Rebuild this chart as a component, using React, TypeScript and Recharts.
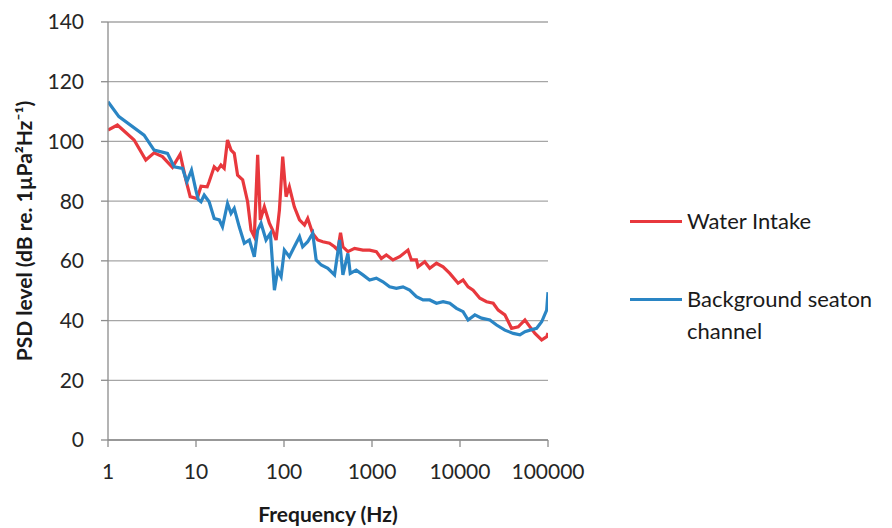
import { LineChart, Line, XAxis, YAxis, CartesianGrid, Legend } from "recharts";

const xTicks = [1, 10, 100, 1000, 10000, 100000];
const yTicks = [0, 20, 40, 60, 80, 100, 120, 140];

const waterFreq = [
  1, 1.28, 1.98, 2.69, 3.34, 4.15, 5.4, 6.61, 7.67, 8.59, 10.3, 11.4, 13.4, 14.1, 16.1, 17.6, 19.2, 20.9,
  22.8, 25, 27.2, 29.7, 33.9, 38.6, 42.2, 46, 50.2, 53.8, 59.8, 68.2, 74.3, 81.3, 88.7, 96.7, 105.6, 115,
  131, 150, 171, 186, 212, 242, 276, 329, 375, 409, 439, 467, 532, 634, 788, 939, 1120, 1276, 1455, 1730,
  2061, 2562, 2803, 3198, 3334, 3973, 4530, 5400, 6424, 7656, 9512, 10840, 12360, 14090, 16820, 20040,
  23830, 27170, 32360, 38550, 45900, 54700, 62370, 71120, 84720, 96600, 100000,
];
const waterLevel = [
  103.8, 105.5, 100.5, 93.8, 96.2, 94.9, 91.3, 95.7, 87.1, 81.5, 80.9, 85, 84.8, 86.5, 91.5, 90.4, 92.1, 91,
  100.5, 97.1, 96, 88.7, 87.1, 79.8, 70.3, 68.1, 95.5, 73.7, 78.1, 72.6, 70.3, 67, 77, 94.9, 81.5, 84.8,
  78.1, 73.7, 72, 74.2, 69.2, 67, 66.4, 65.9, 64.7, 63.6, 69.4, 64.7, 63.1, 64.2, 63.6, 63.6, 63.1, 60.8,
  62, 60.3, 61.4, 63.6, 60.3, 60.3, 58, 59.7, 57.5, 59.2, 58, 55.8, 52.5, 53.6, 51.3, 50.2, 47.5, 46.3,
  45.8, 43.5, 41.9, 37.4, 37.9, 40.2, 37.9, 35.7, 33.5, 34.6, 35.8,
];

const bgFreq = [
  1, 1.33, 2.57, 3.34, 4.74, 5.64, 7.02, 7.87, 8.89, 9.97, 10.6, 11.4, 12.4, 14.1, 16.1, 18.4, 20, 22.8,
  25, 27.2, 31, 35.4, 40.4, 46, 50.2, 54.8, 62.5, 70, 77.8, 84.8, 92.7, 101, 115, 131, 150, 163, 186, 212,
  232, 265, 315, 375, 428, 467, 532, 566, 662, 788, 939, 1120, 1332, 1586, 1890, 2250, 2680, 3198, 3803,
  4530, 5400, 6424, 7656, 9120, 10840, 12360, 14750, 17580, 21840, 26040, 32360, 40270, 47960, 54700,
  62370, 74300, 84720, 96600, 100000,
];
const bgLevel = [
  113.3, 108.3, 102.1, 97.1, 96, 91.5, 91, 86.5, 90.4, 83.7, 80.5, 79.8, 82, 79.8, 74.2, 73.7, 71.4, 79.2,
  75.9, 77.6, 71.4, 65.9, 67, 61.4, 70.3, 72.6, 67, 69.2, 50.2, 56.9, 54.7, 63.6, 61.4, 64.7, 68.1, 64.7,
  66.4, 69.2, 60.3, 58.6, 57.5, 55.3, 67, 55.3, 62.5, 55.8, 56.9, 55.3, 53.6, 54.2, 53, 51.3, 50.8, 51.3,
  50.2, 48, 46.9, 46.9, 45.8, 46.3, 45.8, 44.1, 43, 40.2, 41.9, 40.8, 40.2, 38.5, 36.8, 35.7, 35.2, 36.3,
  36.8, 37.4, 39.6, 43.5, 49.5,
];

const waterData = waterFreq.map((f, i) => ({ f, v: waterLevel[i] }));
const bgData = bgFreq.map((f, i) => ({ f, v: bgLevel[i] }));

const RED = "#e8383d";
const BLUE = "#2a85c4";
const FONT = "Lato, 'Open Sans', sans-serif";

const legendItems = [
  { color: RED, lines: ["Water Intake"] },
  { color: BLUE, lines: ["Background seaton", "channel"] },
];

function ChartLegend() {
  return (
    <div style={{ fontFamily: FONT, fontSize: 22, color: "#1a1a1a" }}>
      {legendItems.map((item, i) => (
        <div key={i} style={{ display: "flex", alignItems: "flex-start", marginBottom: i === 0 ? 46 : 0 }}>
          <div style={{ width: 52, height: 3, background: item.color, marginTop: 15, marginRight: 5 }} />
          <div style={{ lineHeight: "32px" }}>
            {item.lines.map((l) => (
              <div key={l}>{l}</div>
            ))}
          </div>
        </div>
      ))}
    </div>
  );
}

function YLabel({ viewBox }: any) {
  const cx = 15;
  const cy = viewBox.y + viewBox.height / 2;
  return (
    <text
      x={cx}
      y={cy}
      transform={`rotate(-90 ${cx} ${cy})`}
      textAnchor="middle"
      dominantBaseline="central"
      style={{ fontFamily: FONT, fontSize: 21, fontWeight: 700, fill: "#1a1a1a" }}
    >
      PSD level (dB re. 1µPa²Hz⁻¹)
    </text>
  );
}

export default function App() {
  const tickStyle = { fontFamily: FONT, fontSize: 21, fill: "#262626" };
  return (
    <LineChart width={884} height={520} margin={{ top: 14, right: 344, bottom: 0, left: 0 }}>
      <CartesianGrid vertical={false} stroke="#a6a6a6" strokeWidth={1.3} />
      <XAxis
        dataKey="f"
        type="number"
        scale="log"
        domain={[1, 100000]}
        ticks={xTicks}
        allowDataOverflow
        height={88}
        tick={tickStyle}
        tickSize={7}
        tickMargin={17}
        stroke="#8c8c8c"
        strokeWidth={1.3}
        label={{
          value: "Frequency (Hz)",
          position: "insideBottom",
          offset: 6,
          style: { fontFamily: FONT, fontSize: 21, fontWeight: 700, fill: "#1a1a1a" },
        }}
      />
      <YAxis
        type="number"
        domain={[0, 140]}
        ticks={yTicks}
        width={100}
        tick={tickStyle}
        tickSize={7}
        tickMargin={17}
        stroke="#8c8c8c"
        strokeWidth={1.3}
        label={<YLabel />}
      />
      <Legend
        layout="vertical"
        align="center"
        verticalAlign="middle"
        content={<ChartLegend />}
        wrapperStyle={{ left: 622, top: 197, width: 270 }}
      />
      <Line data={waterData} dataKey="v" stroke={RED} strokeWidth={3.2} dot={false} isAnimationActive={false} />
      <Line data={bgData} dataKey="v" stroke={BLUE} strokeWidth={3.2} dot={false} isAnimationActive={false} />
    </LineChart>
  );
}
